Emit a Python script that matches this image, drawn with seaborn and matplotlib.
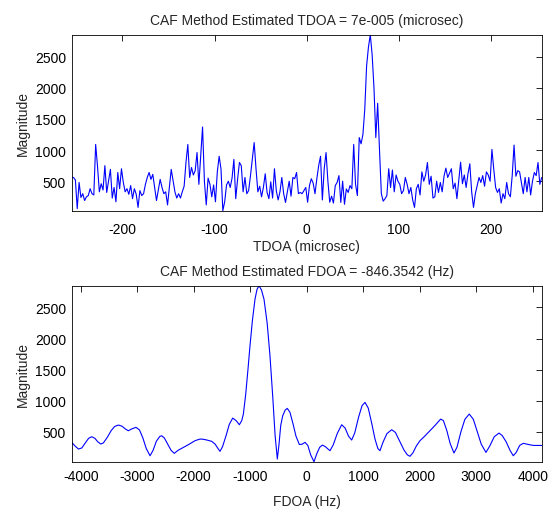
import numpy as np
import pandas as pd
import matplotlib
matplotlib.use("Agg")
import matplotlib.pyplot as plt
import seaborn as sns

# Cross-ambiguity function slices: magnitude vs. time lag (every 2 microsec)
tdoa_start, tdoa_stop, tdoa_step = -255, 255, 2
tdoa_mag = [
    560, 560, 520, 60, 480, 240, 300, 190, 250, 270, 380, 300, 280, 1090, 740, 330,
    460, 360, 750, 320, 510, 690, 230, 400, 170, 640, 380, 700, 480, 330, 380, 290,
    430, 220, 380, 290, 80, 350, 270, 300, 450, 560, 640, 530, 610, 400, 190, 360,
    530, 400, 300, 330, 120, 400, 690, 510, 330, 230, 300, 230, 330, 420, 800, 1090,
    560, 720, 600, 670, 960, 450, 900, 1370, 500, 120, 550, 450, 250, 440, 170, 650,
    900, 700, 28, 170, 440, 500, 400, 550, 850, 220, 530, 800, 750, 330, 560, 300,
    350, 590, 860, 1120, 700, 330, 420, 250, 400, 620, 320, 220, 490, 230, 700, 350,
    200, 330, 560, 300, 160, 330, 500, 260, 560, 540, 640, 300, 320, 300, 350, 400,
    163, 430, 540, 470, 300, 540, 750, 900, 200, 700, 960, 500, 163, 260, 150, 430,
    480, 590, 160, 500, 130, 376, 320, 430, 380, 1090, 450, 270, 1200, 1100, 1250, 1650,
    2350, 2650, 2850, 2530, 2000, 1200, 1750, 1000, 300, 180, 220, 270, 700, 400, 680, 330,
    600, 500, 450, 300, 350, 560, 450, 300, 400, 200, 80, 380, 450, 280, 650, 500,
    600, 800, 450, 580, 230, 250, 500, 320, 480, 330, 580, 710, 560, 630, 700, 380,
    470, 220, 510, 805, 460, 600, 400, 620, 780, 330, 80, 300, 430, 560, 480, 590,
    420, 650, 600, 500, 1010, 690, 400, 320, 380, 150, 300, 220, 480, 300, 250, 590,
    1080, 580, 670, 650, 470, 300, 560, 330, 560, 280, 500, 640, 590, 800, 450, 560,
]
tdoa_us = np.arange(tdoa_start, tdoa_stop + 1, tdoa_step)

# Magnitude vs. Doppler offset
fdoa_hz = [
    -4160, -4100, -4040, -3980, -3920, -3860, -3806, -3750, -3700, -3647,
    -3600, -3530, -3460, -3400, -3334, -3270, -3210, -3157, -3100, -3021,
    -2960, -2900, -2840, -2773, -2720, -2660, -2600, -2567, -2520, -2460,
    -2400, -2343, -2280, -2183, -2080, -1977, -1900, -1859, -1780, -1682,
    -1620, -1570, -1535, -1490, -1430, -1370, -1310, -1250, -1192, -1150,
    -1121, -1080, -1040, -1004, -960, -915, -880, -844, -800, -756,
    -700, -650, -600, -560, -520, -490, -460, -425, -380, -343,
    -296, -240, -190, -130, -80, -30, 20, 70, 129, 180,
    230, 277, 330, 412, 470, 540, 619, 680, 740, 796,
    850, 920, 980, 1032, 1090, 1150, 1210, 1260, 1297, 1350,
    1420, 1504, 1570, 1640, 1720, 1780, 1828, 1880, 1940, 2005,
    2090, 2182, 2280, 2371, 2420, 2480, 2540, 2607, 2660, 2730,
    2800, 2878, 2950, 3020, 3090, 3173, 3240, 3320, 3404, 3460,
    3530, 3600, 3657, 3710, 3770, 3834, 3900, 3952, 4020, 4090,
    4160,
]
fdoa_mag = [
    330, 270, 222, 240, 320, 395, 420, 395, 340, 303,
    320, 410, 520, 585, 608, 590, 545, 516, 545, 571,
    530, 400, 230, 114, 200, 350, 425, 436, 400, 300,
    200, 153, 200, 249, 300, 356, 380, 383, 370, 346,
    300, 230, 185, 260, 430, 620, 720, 680, 613, 680,
    785, 1100, 1500, 1883, 2300, 2634, 2790, 2850, 2780, 2634,
    2250, 1722, 1050, 450, 61, 300, 600, 757, 850, 876,
    812, 620, 430, 295, 300, 330, 280, 130, 18, 150,
    250, 286, 260, 195, 290, 470, 613, 560, 430, 367,
    480, 740, 920, 973, 880, 640, 380, 230, 195, 330,
    470, 533, 490, 360, 210, 130, 105, 160, 270, 356,
    430, 516, 610, 704, 680, 520, 310, 158, 250, 500,
    700, 785, 700, 500, 300, 168, 270, 420, 479, 440,
    340, 200, 114, 170, 280, 314, 300, 290, 280, 280,
    280,
]

tdoa_df = pd.DataFrame({"TDOA": tdoa_us, "Magnitude": tdoa_mag})
fdoa_df = pd.DataFrame({"FDOA": fdoa_hz, "Magnitude": fdoa_mag})

sns.set_style("white")
plt.rcParams["font.family"] = ["Liberation Sans", "DejaVu Sans"]
plt.rcParams["axes.unicode_minus"] = False
plt.rcParams["font.size"] = 10

fig = plt.figure(figsize=(5.49, 5.10), dpi=100)
ax1 = fig.add_axes([0.1306, 0.585, 0.8561, 0.345])
ax2 = fig.add_axes([0.1306, 0.0927, 0.8561, 0.3451])

line_kw = dict(color="#0000ff", linewidth=0.8, estimator=None)
sns.lineplot(data=tdoa_df, x="TDOA", y="Magnitude", ax=ax1, **line_kw)
sns.lineplot(data=fdoa_df, x="FDOA", y="Magnitude", ax=ax2, **line_kw)

ax1.set_xlim(-255, 255)
ax1.set_ylim(min(tdoa_mag), max(tdoa_mag))
ax1.set_xticks([-200, -100, 0, 100, 200])
ax1.set_title("CAF Method Estimated TDOA = 7e-005 (microsec)", fontsize=10, pad=8)
ax1.set_xlabel("TDOA (microsec)", fontsize=10, labelpad=2)

ax2.set_xlim(-4160, 4160)
ax2.set_ylim(min(fdoa_mag), max(fdoa_mag))
ax2.set_xticks([-4000, -3000, -2000, -1000, 0, 1000, 2000, 3000, 4000])
ax2.set_title("CAF Method Estimated FDOA = -846.3542 (Hz)", fontsize=10, pad=8)
ax2.set_xlabel("FDOA (Hz)", fontsize=10, labelpad=8)

for ax in (ax1, ax2):
    ax.set_yticks([500, 1000, 1500, 2000, 2500])
    ax.set_ylabel("Magnitude", fontsize=10, labelpad=4)
    ax.tick_params(direction="in", length=4, width=0.6, top=True, right=True,
                   labelsize=10, colors="black", pad=4)
    for sp in ax.spines.values():
        sp.set_visible(True)
        sp.set_color("black")
        sp.set_linewidth(0.6)
    ax.grid(False)

ax1.tick_params(axis="x", pad=8)
ax2.tick_params(axis="x", pad=5.5)

fig.savefig("out.png", dpi=100, facecolor="white")
